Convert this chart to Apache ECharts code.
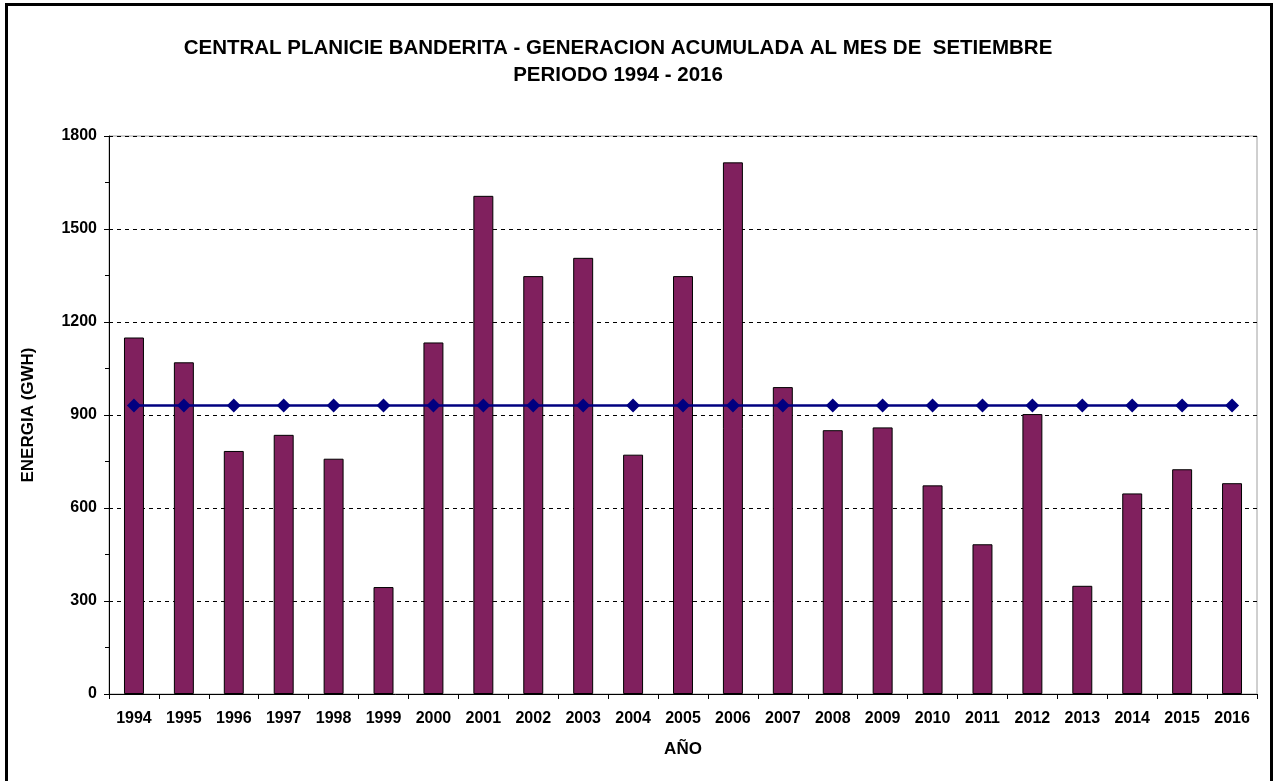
<!DOCTYPE html>
<html>
<head>
<meta charset="utf-8">
<title>Central Planicie Banderita</title>
<script src="https://cdn.jsdelivr.net/npm/echarts@6/dist/echarts.min.js"></script>
<style>
	html, body { margin: 0; padding: 0; background: #fff; }
	#frame { position: absolute; left: 5px; top: 3px; width: 1268px; height: 800px; border: 3px solid #000; box-sizing: border-box; }
	#Main { position: absolute; left: 0; top: 0; width: 1279px; height: 781px; }
</style>
</head>
<body>
<div id="frame"></div>
<div id="Main"></div>
<script>
//años
var years = ['1994', '1995', '1996', '1997', '1998', '1999', '2000', '2001', '2002', '2003', '2004', '2005',
	'2006', '2007', '2008', '2009', '2010', '2011', '2012', '2013', '2014', '2015', '2016'];
//generacion acumulada (GWH)
var generacion = [1150, 1070, 784, 836, 759, 345, 1134, 1607, 1348, 1407, 772, 1348,
	1715, 990, 851, 860, 673, 483, 903, 349, 647, 725, 680];
//promedio
var promedio = [931, 931, 931, 931, 931, 931, 931, 931, 931, 931, 931, 931,
	931, 931, 931, 931, 931, 931, 931, 931, 931, 931, 931];
var yTicks = [0, 300, 600, 900, 1200, 1500, 1800];

var fuente = 'Arial, "Liberation Sans", sans-serif';
var myChart = echarts.init(document.getElementById('Main'));
myChart.setOption({
	backgroundColor: 'transparent',
	animation: false,
	title: {
		text: 'CENTRAL PLANICIE BANDERITA - GENERACION ACUMULADA AL MES DE  SETIEMBRE\nPERIODO 1994 - 2016',
		left: 613,
		textAlign: 'center',
		top: 30,
		textStyle: {
			fontFamily: fuente,
			fontSize: 20.5,
			fontWeight: 'bold',
			color: '#000',
			lineHeight: 27
		}
	},
	grid: {
		left: 109,
		right: 22,
		top: 136,
		bottom: 87,
		show: true,
		borderColor: '#a0a0a0',
		borderWidth: 1
	},
	xAxis: {
		type: 'category',
		data: years,
		name: 'AÑO',
		nameLocation: 'middle',
		nameGap: 47,
		nameTextStyle: { fontFamily: fuente, fontSize: 17, fontWeight: 'bold', color: '#000' },
		axisLine: { lineStyle: { color: '#000', width: 1 } },
		axisTick: { show: true, length: 5, lineStyle: { color: '#000' } },
		axisLabel: { fontFamily: fuente, fontSize: 16, fontWeight: 'bold', color: '#000', margin: 17 },
		splitLine: { show: false }
	},
	yAxis: {
		type: 'value',
		min: yTicks[0],
		max: yTicks[yTicks.length - 1],
		interval: 300,
		name: 'ENERGIA (GWH)',
		nameLocation: 'middle',
		nameRotate: 90,
		nameGap: 72,
		nameTextStyle: { fontFamily: fuente, fontSize: 17, fontWeight: 'bold', color: '#000' },
		axisLine: { show: true, lineStyle: { color: '#000', width: 1 } },
		axisTick: { show: true, length: 5, lineStyle: { color: '#000' } },
		minorTick: { show: true, splitNumber: 2, length: 4, lineStyle: { color: '#000' } },
		axisLabel: {
			fontFamily: fuente, fontSize: 16, fontWeight: 'bold', color: '#000', margin: 12,
			formatter: function(v) { return String(v); }
		},
		splitLine: { show: true, lineStyle: { color: '#000', type: [4, 4], width: 1 } }
	},
	series: [{
		name: 'Generacion',
		type: 'bar',
		data: generacion,
		barWidth: '40%',
		itemStyle: { color: '#80205E', borderColor: '#000', borderWidth: 1 },
		z: 2
	}, {
		name: 'Promedio',
		type: 'line',
		data: promedio,
		symbol: 'diamond',
		symbolSize: 14,
		lineStyle: { color: '#000080', width: 2.5 },
		itemStyle: { color: '#000080' },
		z: 3
	}]
});
</script>
</body>
</html>
